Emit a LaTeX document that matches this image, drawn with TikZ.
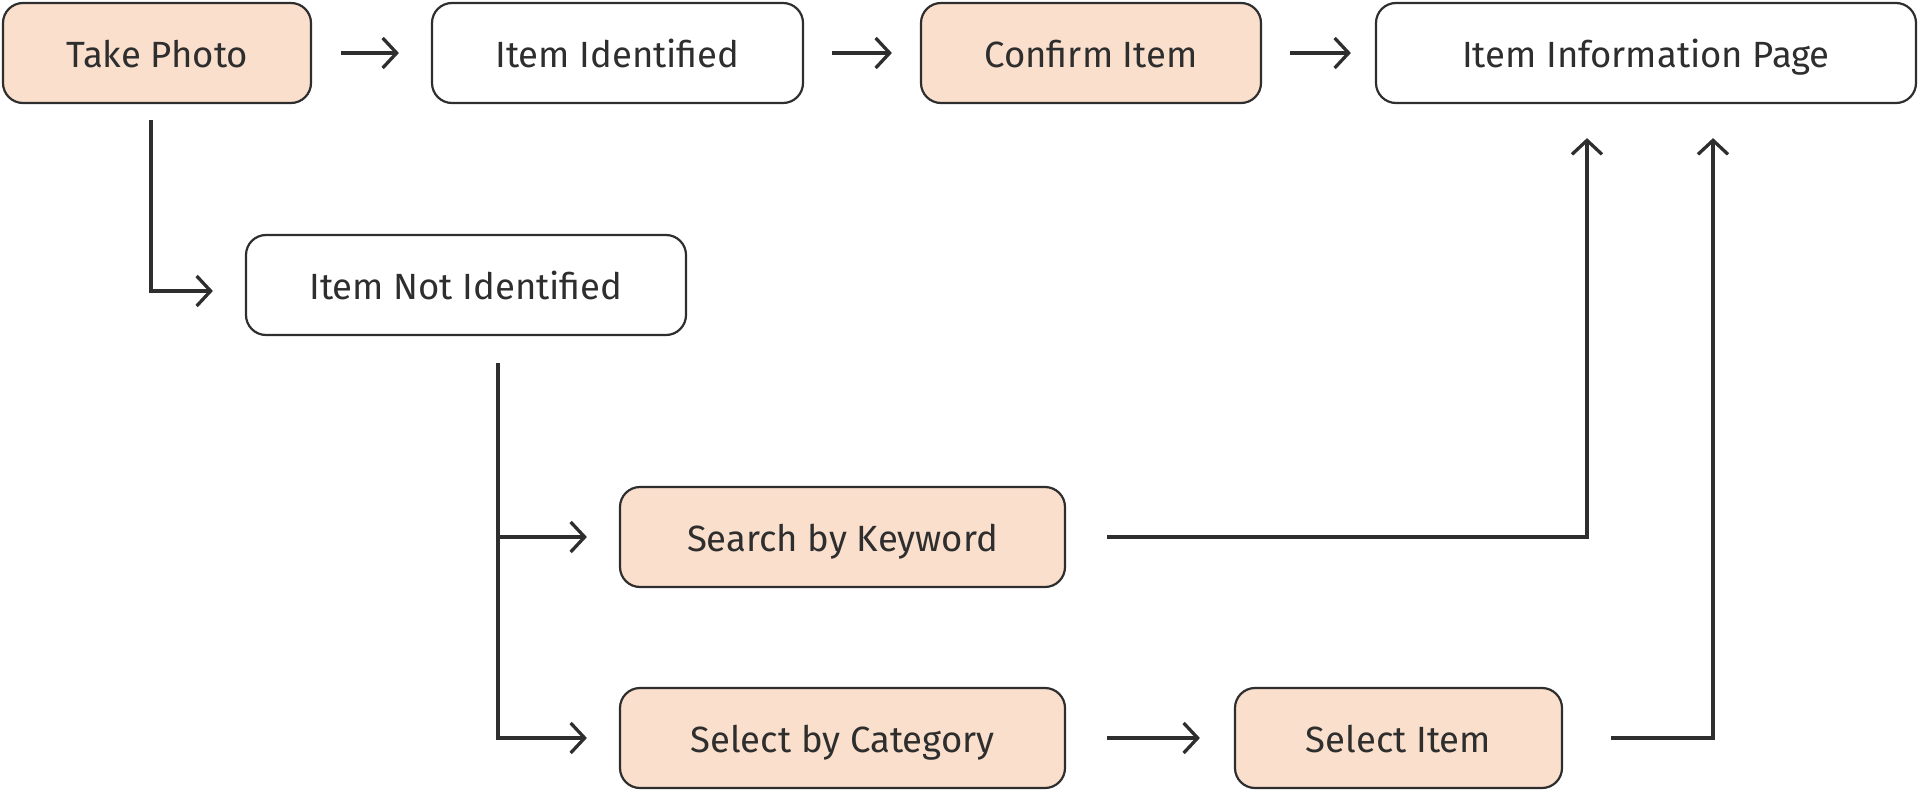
\documentclass[tikz,border=0pt]{standalone}
\usepackage{fontspec}
\setmainfont{Fira Sans}
\usetikzlibrary{arrows.meta}
\definecolor{peach}{HTML}{F9DFCC}
\definecolor{ink}{HTML}{2E2E2E}
\begin{document}
\begin{tikzpicture}[x=1pt, y=-1pt]
  \tikzstyle{every node}=[font=\fontsize{36.5}{44}\selectfont, text=ink]
  \tikzstyle{box}=[draw=ink, line width=2.2pt, rounded corners=20pt, minimum height=100pt, inner sep=0pt, text height=30pt, text depth=2pt]
  \tikzstyle{done}=[box, fill=peach]
  \tikzstyle{arr}=[->, draw=ink, line width=3.3pt, >={Straight Barb[length=14pt, width=30pt, line width=3.3pt]}]
  \useasboundingbox (0, 0) rectangle (1920, 792);

  % top row
  \node[done, minimum width=308pt] (photo) at (157, 53) {Take Photo};
  \node[box, minimum width=371pt] (ident) at (617.5, 53) {Item Identified};
  \node[done, minimum width=340pt] (confirm) at (1091, 53) {Confirm Item};
  \node[box, minimum width=540pt] (info) at (1646, 53) {Item Information Page};

  % not identified branch
  \node[box, minimum width=440pt] (notid) at (466, 285) {Item Not Identified};
  \node[done, minimum width=445pt] (keyword) at (842.5, 537) {Search by Keyword};
  \node[done, minimum width=445pt] (category) at (842.5, 738) {Select by Category};
  \node[done, minimum width=327pt] (selitem) at (1398.5, 738) {Select Item};

  \draw[arr, shorten <=29pt, shorten >=32pt] (photo) -- (ident);
  \draw[arr, shorten <=28pt, shorten >=28pt] (ident) -- (confirm);
  \draw[arr, shorten <=28pt, shorten >=24pt] (confirm) -- (info);

  \draw[arr] ([xshift=-6pt, yshift=-16pt]photo.south) |- ([xshift=-32pt, yshift=-6pt]notid.west);

  \coordinate (split) at ([xshift=32pt, yshift=-27pt]notid.south);
  \draw[arr] (split) |- ([xshift=-32pt]category.west);
  \draw[arr] (split |- keyword.west) -- ([xshift=-32pt]keyword.west);

  \draw[arr] ([xshift=41pt]keyword.east) -| ([xshift=-59pt, yshift=-34pt]info.south);
  \draw[arr, shorten <=41pt, shorten >=34pt] (category) -- (selitem);
  \draw[arr] ([xshift=48pt]selitem.east) -| ([xshift=67pt, yshift=-34pt]info.south);
\end{tikzpicture}
\end{document}
